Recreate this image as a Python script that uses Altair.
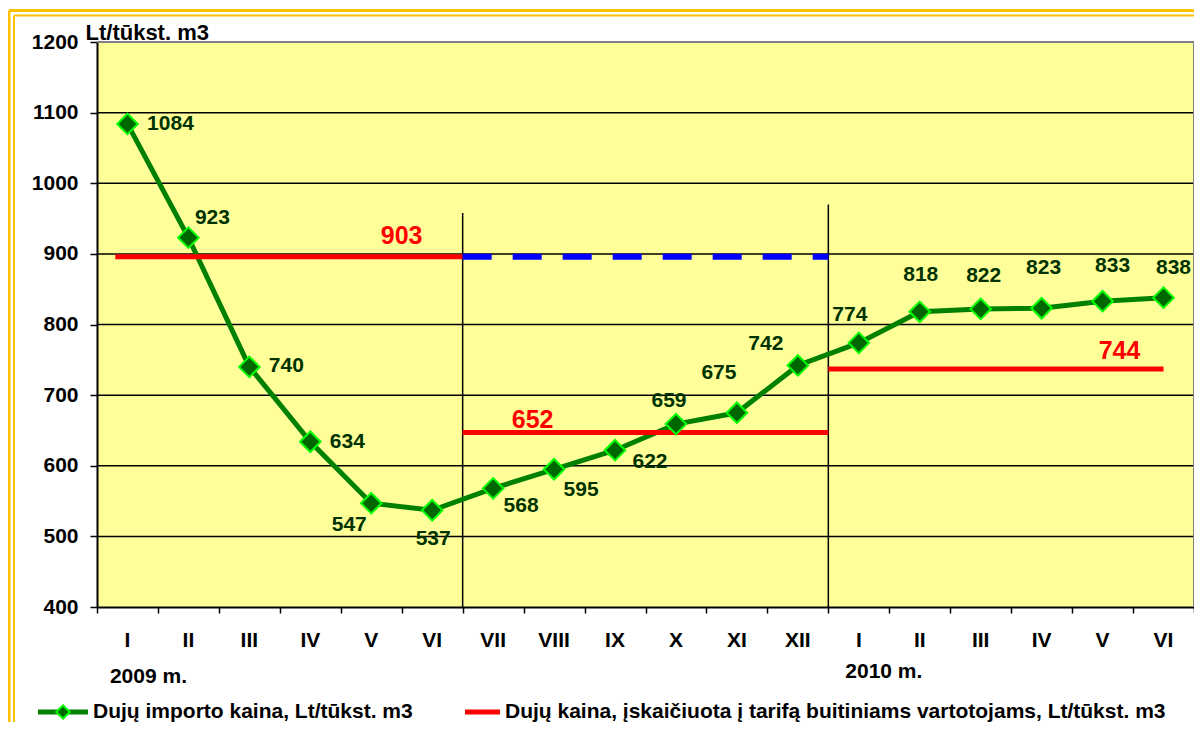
import altair as alt
import pandas as pd

# ---------------- data ----------------
months = ["I", "II", "III", "IV", "V", "VI", "VII", "VIII", "IX", "X", "XI", "XII",
          "I", "II", "III", "IV", "V", "VI"]
import_price = [1084, 923, 740, 634, 547, 537, 568, 595, 622, 659, 675, 742,
                774, 818, 822, 823, 833, 838]
tariff_labels = ["903", "652", "744"]
tariff_drawn = [896, 647, 737]
tariff_start = [0.3, 6, 12]
tariff_end = [6, 12, 17.5]
dashed_level = [896]
dashed_start = [6]
dashed_end = [12]
separator_x = [6, 12]
separator_top = [958, 970]
grid_values = [500, 600, 700, 800, 900, 1000, 1100]
y_ticks = [400, 500, 600, 700, 800, 900, 1000, 1100, 1200]
x_ticks = list(range(19))
year_labels = ["2009 m.", "2010 m."]
year_anchor = [0, 12]
legend_labels = ["Dujų importo kaina, Lt/tūkst. m3",
                 "Dujų kaina, įskaičiuota į tarifą buitiniams vartotojams, Lt/tūkst. m3"]
y_title = "Lt/tūkst. m3"

# ---------------- layout / style ----------------
W, H = 1097, 565
FONT = "Liberation Sans"
FS = 21
GOLD = "#FFC000"
LINE_GREEN = "#008000"
PT_FILL = "#006600"
PT_STROKE = "#00FF00"
LBL_GREEN = "#003300"
RED = "#FF0000"
BLUE = "#0000FF"

xs = alt.Scale(domain=[0, 18], nice=False, zero=False)
ys = alt.Scale(domain=[400, 1200], nice=False, zero=False)

XAX = alt.Axis(values=x_ticks, labels=False, title=None, grid=False,
               tickSize=6, tickColor="black", tickWidth=1.5,
               domainColor="black", domainWidth=2)
YAX = alt.Axis(values=y_ticks, format="d", title=y_title, titleAngle=0, titleX=-12, titleY=-3,
               titleAlign="left", titleBaseline="alphabetic", titleFontSize=22,
               titleFontWeight="bold", titleFont=FONT, titleColor="black",
               labelFont=FONT, labelFontSize=FS, labelFontWeight="bold", labelColor="black",
               labelPadding=12, labelFlush=False, labelOverlap=False,
               tickSize=7, tickColor="black", tickWidth=1.5,
               domainColor="black", domainWidth=2, grid=False)


def X(f):
    return alt.X(f, scale=xs, axis=XAX)


def Y(f):
    return alt.Y(f, scale=ys, axis=YAX)


df = pd.DataFrame({
    "idx": list(range(len(months))),
    "month": months,
    "price": import_price,
})
df["pos"] = df["idx"] + 0.5

one = pd.DataFrame({"k": [0]})

layers = []

# gridlines
layers.append(alt.Chart(pd.DataFrame({"g": grid_values})).mark_rule(
    color="black", strokeWidth=1.5).encode(y=Y("g:Q")))

# vertical separators
sep = pd.DataFrame({"x": separator_x, "top": separator_top, "bottom": [400, 400]})
layers.append(alt.Chart(sep).mark_rule(color="black", strokeWidth=1.5).encode(
    x=X("x:Q"), y=Y("bottom:Q"), y2="top:Q"))

# main green line
base = alt.Chart(df).encode(x=X("pos:Q"), y=Y("price:Q"))
layers.append(base.mark_line(color=LINE_GREEN, strokeWidth=5))

# tariff red segments
tar = pd.DataFrame({"x0": tariff_start, "x1": tariff_end, "v": tariff_drawn, "lab": tariff_labels})
layers.append(alt.Chart(tar).mark_rule(color=RED, strokeWidth=5).encode(
    x=X("x0:Q"), x2="x1:Q", y=Y("v:Q")))

# blue dashed
dsh = pd.DataFrame({"x0": dashed_start, "x1": dashed_end, "v": dashed_level})
layers.append(alt.Chart(dsh).mark_rule(color=BLUE, strokeWidth=6, strokeDash=[29, 21]).encode(
    x=X("x0:Q"), x2="x1:Q", y=Y("v:Q")))

# diamonds
layers.append(base.mark_point(shape="diamond", filled=True, fill=PT_FILL, stroke=PT_STROKE,
                              strokeWidth=2, size=420, opacity=1))

# data labels
label_offsets = [(43, 0), (24, -20), (37, -1), (37, 0), (-22, 22), (1, 29), (28, 18),
                 (27, 21), (35, 12), (-7, -23), (-18, -40), (-32, -21), (-9, -28),
                 (1, -37), (3, -33), (2, -40), (10, -35), (10, -30)]
for i, (dx, dy) in enumerate(label_offsets):
    layers.append(alt.Chart(df.iloc[[i]]).mark_text(
        font=FONT, fontSize=FS, fontWeight="bold", color=LBL_GREEN,
        dx=dx, dy=dy, align="center", baseline="middle").encode(
        x=X("pos:Q"), y=Y("price:Q"), text=alt.Text("price:Q")))

# red tariff labels
tariff_label_place = [("x1", -61, -21), ("x0", 70, -13), ("x1", -44, -18)]
for i, (anchor, dx, dy) in enumerate(tariff_label_place):
    layers.append(alt.Chart(tar.iloc[[i]]).mark_text(
        font=FONT, fontSize=25, fontWeight="bold", color=RED,
        dx=dx, dy=dy, align="center", baseline="middle").encode(
        x=X(f"{anchor}:Q"), y=Y("v:Q"), text="lab:N"))

# month labels under the axis
layers.append(alt.Chart(df).mark_text(
    font=FONT, fontSize=FS, fontWeight="bold", color="black",
    align="center", baseline="middle").encode(
    x=X("pos:Q"), y=alt.value(H + 34), text="month:N"))

# year labels
yr = pd.DataFrame({"lab": year_labels, "a": [year_anchor[0] + 0.5, year_anchor[1] + 0.5]})
for i, (dx, yy) in enumerate([(21, H + 70), (25, H + 65)]):
    layers.append(alt.Chart(yr.iloc[[i]]).mark_text(
        font=FONT, fontSize=FS, fontWeight="bold", color="black",
        align="center", baseline="middle", dx=dx).encode(
        x=X("a:Q"), y=alt.value(yy), text="lab:N"))

# plot border (gray top / right)
layers.append(alt.Chart(one).mark_rule(color="#808080", strokeWidth=2).encode(
    x=alt.value(0), x2=alt.value(W), y=alt.value(0)))
layers.append(alt.Chart(one).mark_rule(color="#808080", strokeWidth=2).encode(
    x=alt.value(W), y=alt.value(0), y2=alt.value(H)))

# outer double gold frame
for off, sw in [(-88, 3), (-83, 2)]:
    layers.append(alt.Chart(one).mark_rule(color=GOLD, strokeWidth=sw).encode(
        x=alt.value(off), x2=alt.value(W + 300), y=alt.value(off + 56.5)))
    layers.append(alt.Chart(one).mark_rule(color=GOLD, strokeWidth=sw).encode(
        x=alt.value(off), y=alt.value(off + 56.5), y2=alt.value(H + 300)))

# legend (drawn)
LY = H + 105
layers.append(alt.Chart(one).mark_rule(color=LINE_GREEN, strokeWidth=5).encode(
    x=alt.value(-59), x2=alt.value(-9), y=alt.value(LY)))
layers.append(alt.Chart(one).mark_point(shape="diamond", filled=True, fill=PT_FILL,
                                        stroke=PT_STROKE, strokeWidth=2, size=180, opacity=1).encode(
    x=alt.value(-34), y=alt.value(LY)))
layers.append(alt.Chart(one).mark_rule(color=RED, strokeWidth=5).encode(
    x=alt.value(368), x2=alt.value(403), y=alt.value(LY)))
leg = pd.DataFrame({"lab": legend_labels})
for i, lx in enumerate([-4, 408]):
    layers.append(alt.Chart(leg.iloc[[i]]).mark_text(
        font=FONT, fontSize=FS, fontWeight="bold", color="black",
        align="left", baseline="middle").encode(
        x=alt.value(lx), y=alt.value(LY), text="lab:N"))

chart = alt.layer(*layers).properties(
    width=W, height=H,
    padding={"left": 89, "top": 34, "right": 0, "bottom": 115},
    autosize=alt.AutoSizeParams(type="none"),
    background="white",
).configure(font=FONT).configure_view(fill="#FFFF99", strokeOpacity=0)

chart.save("out.html", embed_options={"renderer": "svg", "actions": False})
